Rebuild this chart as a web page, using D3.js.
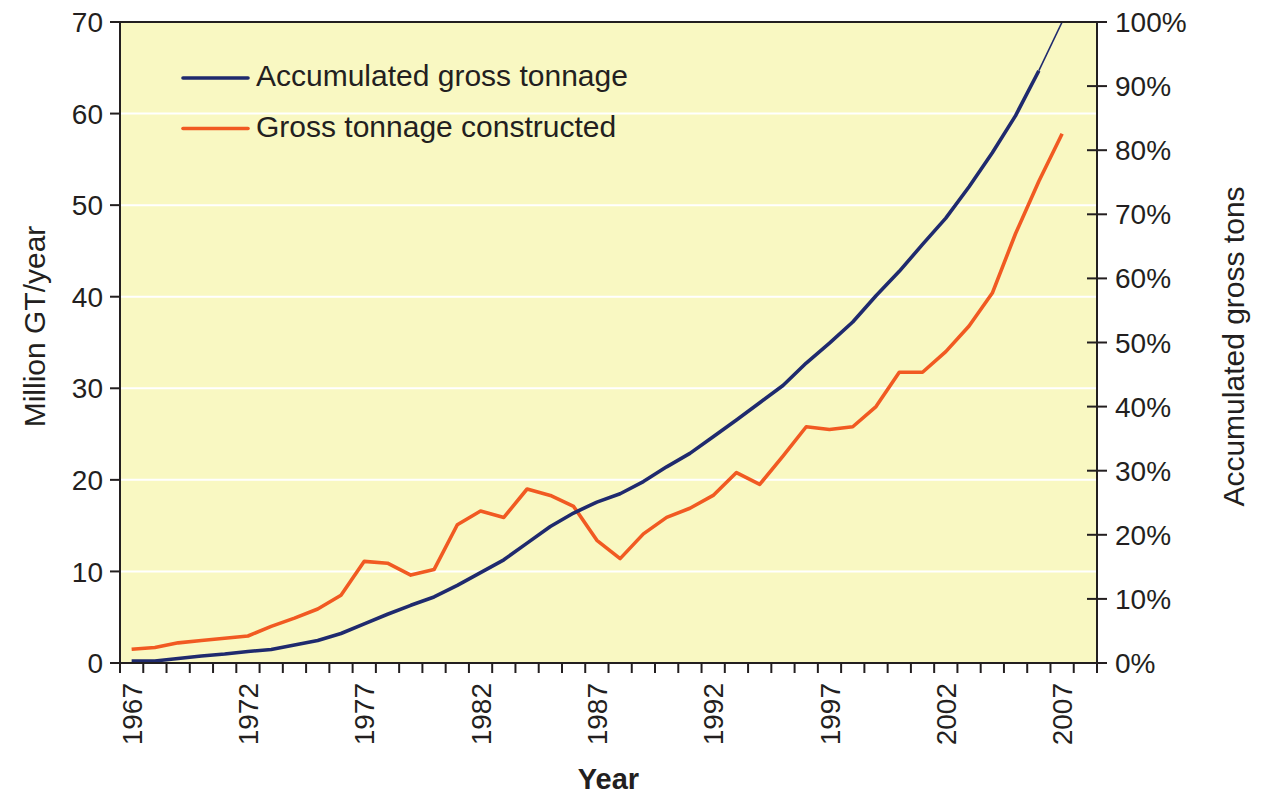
<!DOCTYPE html>
<html>
<head>
<meta charset="utf-8">
<script src="https://cdn.jsdelivr.net/npm/d3@7"></script>
<style>
  html, body { margin: 0; padding: 0; background: #ffffff; }
  svg { display: block; }
  text { font-family: "Liberation Sans", Arial, Helvetica, sans-serif; fill: #231f20; }
</style>
</head>
<body>
<svg id="chart" width="1267" height="808"></svg>
<script>
// ---- Data ----
const years = d3.range(1967, 2009); // 1967..2008 category bands
const dataYears = d3.range(1967, 2008); // years with values
// Gross tonnage constructed (Million GT/year), left axis
const constructed = [1.5, 1.7, 2.2, 2.45, 2.7, 2.95, 4.0, 4.9, 5.9, 7.4,
  11.1, 10.9, 9.6, 10.2, 15.1, 16.6, 15.9, 19.0, 18.3, 17.1,
  13.4, 11.4, 14.1, 15.9, 16.9, 18.3, 20.8, 19.5, 22.6, 25.8,
  25.5, 25.8, 28.0, 31.75, 31.75, 34.0, 36.8, 40.4, 46.9, 52.6, 57.8];
// Accumulated gross tonnage (% of total), right axis
const accumulated = [0.3, 0.3, 0.7, 1.1, 1.4, 1.8, 2.1, 2.8, 3.5, 4.6,
  6.1, 7.6, 9.0, 10.3, 12.1, 14.1, 16.1, 18.7, 21.3, 23.4,
  25.1, 26.4, 28.3, 30.6, 32.7, 35.3, 37.9, 40.6, 43.3, 46.8,
  49.9, 53.2, 57.3, 61.1, 65.3, 69.4, 74.3, 79.6, 85.4, 92.4, 100];
const leftTicks = [0, 10, 20, 30, 40, 50, 60, 70];
const rightTicks = [0, 10, 20, 30, 40, 50, 60, 70, 80, 90, 100];
const xLabelYears = [1967, 1972, 1977, 1982, 1987, 1992, 1997, 2002, 2007];
const seriesNames = ["Accumulated gross tonnage", "Gross tonnage constructed"];
const colors = { acc: "#1f2a6e", con: "#f15a22" };

// ---- Layout ----
const L = 120, R = 1097, T = 22, B = 663;
const svg = d3.select("#chart");

const x = d3.scaleBand().domain(years).range([L, R]).padding(0);
const yL = d3.scaleLinear().domain([0, 70]).range([B, T]);
const yR = d3.scaleLinear().domain([0, 100]).range([B, T]);
const cx = d => x(d) + x.bandwidth() / 2;

// Plot background
svg.append("rect").attr("x", L).attr("y", T).attr("width", R - L).attr("height", B - T)
  .attr("fill", "#f9f8c2");

// Gridlines
svg.append("g").selectAll("line").data(leftTicks.filter(t => t > 0 && t < 70)).join("line")
  .attr("x1", L).attr("x2", R).attr("y1", d => yL(d)).attr("y2", d => yL(d))
  .attr("stroke", "#ffffff").attr("stroke-width", 2);

// Lines
const conData = dataYears.map((yr, i) => ({ yr, v: constructed[i] }));
const accData = dataYears.map((yr, i) => ({ yr, v: accumulated[i] }));

svg.append("path").datum(conData)
  .attr("fill", "none").attr("stroke", colors.con).attr("stroke-width", 3.6)
  .attr("stroke-linejoin", "round")
  .attr("d", d3.line().x(d => cx(d.yr)).y(d => yL(d.v)));

svg.append("path").datum(accData.slice(0, accData.length - 1))
  .attr("fill", "none").attr("stroke", colors.acc).attr("stroke-width", 3.6)
  .attr("stroke-linejoin", "round")
  .attr("d", d3.line().x(d => cx(d.yr)).y(d => yR(d.v)));
svg.append("path").datum(accData.slice(accData.length - 2))
  .attr("fill", "none").attr("stroke", colors.acc).attr("stroke-width", 1.6)
  .attr("d", d3.line().x(d => cx(d.yr)).y(d => yR(d.v)));

// Axes frame
const axisColor = "#231f20";
const frame = svg.append("g").attr("stroke", axisColor).attr("stroke-width", 2);
frame.append("line").attr("x1", 110).attr("x2", R).attr("y1", T).attr("y2", T);
frame.append("line").attr("x1", L).attr("x2", L).attr("y1", T).attr("y2", B + 10);
frame.append("line").attr("x1", R).attr("x2", R).attr("y1", T).attr("y2", B + 10);
frame.append("line").attr("x1", 110).attr("x2", R + 10).attr("y1", B).attr("y2", B);

// Left axis ticks + labels
svg.append("g").selectAll("line").data(leftTicks).join("line")
  .attr("x1", L - 10).attr("x2", L).attr("y1", d => yL(d)).attr("y2", d => yL(d))
  .attr("stroke", axisColor).attr("stroke-width", 2);
svg.append("g").selectAll("text").data(leftTicks).join("text")
  .attr("x", 103).attr("y", d => yL(d)).attr("dy", "0.36em")
  .attr("text-anchor", "end").attr("font-size", 28).text(d => d);

// Right axis ticks + labels
svg.append("g").selectAll("line").data(rightTicks).join("line")
  .attr("x1", d => (d === 0 || d === 100) ? R : R - 10).attr("x2", R + 10)
  .attr("y1", d => yR(d)).attr("y2", d => yR(d))
  .attr("stroke", axisColor).attr("stroke-width", 2);
svg.append("g").selectAll("text").data(rightTicks).join("text")
  .attr("x", 1115).attr("y", d => yR(d)).attr("dy", "0.36em")
  .attr("text-anchor", "start").attr("font-size", 28).text(d => d + "%");

// Bottom axis ticks at band boundaries
const boundaries = years.map(d => x(d)).concat([R]);
svg.append("g").selectAll("line").data(boundaries).join("line")
  .attr("x1", d => d).attr("x2", d => d).attr("y1", B).attr("y2", B + 10)
  .attr("stroke", axisColor).attr("stroke-width", 2);
svg.append("g").selectAll("text").data(xLabelYears).join("text")
  .attr("transform", d => `translate(${cx(d)},683) rotate(-90)`)
  .attr("dy", "0.36em").attr("text-anchor", "end").attr("font-size", 28)
  .text(d => d);

// Axis titles
svg.append("text").attr("transform", `translate(45,${(T + B) / 2 - 16}) rotate(-90)`)
  .attr("text-anchor", "middle").attr("font-size", 30).text("Million GT/year");
svg.append("text").attr("transform", `translate(1244,${(T + B) / 2 + 4}) rotate(-90)`)
  .attr("text-anchor", "middle").attr("font-size", 30).text("Accumulated gross tons");
svg.append("text").attr("x", (L + R) / 2).attr("y", 789)
  .attr("text-anchor", "middle").attr("font-size", 29).attr("font-weight", "bold").text("Year");

// Legend
const legend = svg.append("g");
const legItems = [
  { name: seriesNames[0], color: colors.acc, y: 78 },
  { name: seriesNames[1], color: colors.con, y: 128.5 }
];
legend.selectAll("line").data(legItems).join("line")
  .attr("x1", 183).attr("x2", 248).attr("y1", d => d.y).attr("y2", d => d.y)
  .attr("stroke", d => d.color).attr("stroke-width", 3.6).attr("stroke-linecap", "round");
legend.selectAll("text").data(legItems).join("text")
  .attr("x", 256).attr("y", d => d.y + 8).attr("font-size", 30).text(d => d.name);
</script>
</body>
</html>
